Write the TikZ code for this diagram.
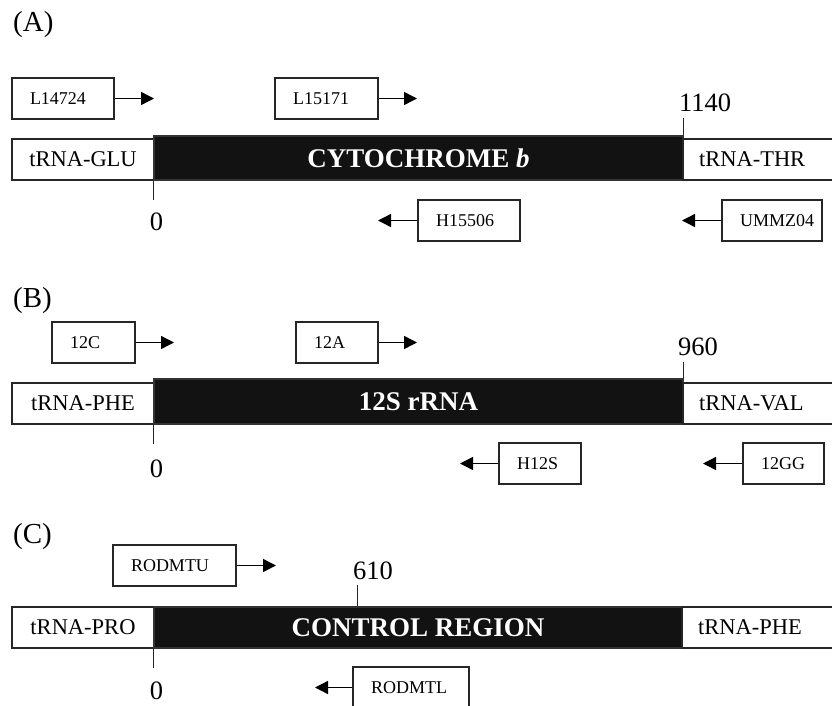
\documentclass[tikz,border=0pt]{standalone}
\usepackage{fontspec}
\setmainfont{Liberation Serif}
\usetikzlibrary{arrows.meta}

\begin{document}
\begin{tikzpicture}[
      x=1pt, y=-1pt,
      primer/.style={draw=black!85, line width=1.3pt, minimum height=41pt,
        inner xsep=18pt, inner ysep=0pt, align=left,
        font=\fontsize{18}{20}\selectfont},
      trna/.style={draw=black!85, fill=white, line width=1.3pt,
        minimum height=41pt, inner sep=0pt,
        font=\fontsize{22.5}{24}\selectfont},
      gene/.style={draw=black!80, fill=black!93, text=white, line width=1.3pt,
        minimum height=44pt, inner sep=0pt,
        font=\fontsize{27}{29}\selectfont\bfseries},
      numlabel/.style={inner sep=0pt, font=\fontsize{26.5}{28}\selectfont},
      panel/.style={anchor=west, inner sep=0pt, font=\fontsize{29}{31}\selectfont},
      ticmark/.style={draw=black!85, line width=1.3pt},
      arr/.style={-{Triangle[length=13pt, width=13pt]}, line width=1.4pt}
    ]
    \useasboundingbox (0,0) rectangle (832,706);

    % (A) cytochrome b
    \node[panel] (labA) at (13,25) {(A)};
    \node[primer, text width=66pt] (l14724) at (63,98.5) {L14724};
    \node[primer, text width=67pt] (l15171) at (326.5,98.5) {L15171};
    \coordinate (l14724e) at (154,98.5);
    \coordinate (l15171e) at (417,98.5);
    \draw[arr] (l14724) -- (l14724e);
    \draw[arr] (l15171) -- (l15171e);

    \node[trna, minimum width=142pt] (glu) at (83,159.5) {tRNA-GLU};
    \node[gene, minimum width=529pt] (cytb) at (418.5,158) {CYTOCHROME \textit{b}};
    \node[trna, minimum width=170pt, text width=138pt, inner xsep=16pt,
      align=left] (thr) at (768,159.5) {tRNA-THR};
    \draw[ticmark] (cytb.south west) -- ++(0,19);
    \draw[ticmark] (cytb.north east) -- ++(0,-17);
    \node[numlabel] (zeroA) at (156.5,222) {0};
    \node[numlabel, anchor=west] (endA) at (679,103) {1140};

    \node[primer, text width=66pt] (h15506) at (469,220.5) {H15506};
    \node[primer, text width=64pt] (ummz04) at (772,220.5) {UMMZ04};
    \coordinate (h15506w) at (378,220.5);
    \coordinate (ummz04w) at (682,220.5);
    \draw[arr] (h15506) -- (h15506w);
    \draw[arr] (ummz04) -- (ummz04w);

    % (B) 12S rRNA
    \node[panel] (labB) at (13,301) {(B)};
    \node[primer, text width=47pt] (p12c) at (93.5,342.5) {12C};
    \node[primer, text width=46pt] (p12a) at (337,342.5) {12A};
    \coordinate (p12ce) at (174,342.5);
    \coordinate (p12ae) at (417,342.5);
    \draw[arr] (p12c) -- (p12ce);
    \draw[arr] (p12a) -- (p12ae);

    \node[trna, minimum width=142pt] (phe) at (83,403.5) {tRNA-PHE};
    \node[gene, minimum width=529pt, minimum height=45pt] (rrna) at (418.5,401.5) {12S rRNA};
    \node[trna, minimum width=170pt, text width=138pt, inner xsep=16pt,
      align=left] (val) at (768,403.5) {tRNA-VAL};
    \draw[ticmark] (rrna.south west) -- ++(0,19);
    \draw[ticmark] (rrna.north east) -- ++(0,-16);
    \node[numlabel] (zeroB) at (156.5,469) {0};
    \node[numlabel, anchor=west] (endB) at (678,347) {960};

    \node[primer, text width=46pt] (h12s) at (540,463.5) {H12S};
    \node[primer, text width=45pt] (p12gg) at (783.5,463.5) {12GG};
    \coordinate (h12sw) at (460,463.5);
    \coordinate (p12ggw) at (703,463.5);
    \draw[arr] (h12s) -- (h12sw);
    \draw[arr] (p12gg) -- (p12ggw);

    % (C) control region
    \node[panel] (labC) at (13,537) {(C)};
    \node[primer, text width=87pt] (rodmtu) at (174.5,565.5) {RODMTU};
    \coordinate (rodmtue) at (276,565.5);
    \draw[arr] (rodmtu) -- (rodmtue);

    \node[trna, minimum width=142pt] (pro) at (83,627.5) {tRNA-PRO};
    \node[gene, minimum width=528pt, minimum height=41pt] (ctrl) at (418,627.5) {CONTROL REGION};
    \node[trna, minimum width=170pt, text width=138pt, inner xsep=16pt,
      align=left] (phec) at (767,627.5) {tRNA-PHE};
    \draw[ticmark] (ctrl.south west) -- ++(0,19);
    \draw[ticmark] ([xshift=204pt]ctrl.north west) -- ++(0,-21);
    \node[numlabel] (zeroC) at (156.5,691) {0};
    \node[numlabel, anchor=west] (endC) at (353,571) {610};

    \node[primer, text width=80pt] (rodmtl) at (411,687.5) {RODMTL};
    \coordinate (rodmtlw) at (315,687.5);
    \draw[arr] (rodmtl) -- (rodmtlw);
  \end{tikzpicture}
\end{document}
